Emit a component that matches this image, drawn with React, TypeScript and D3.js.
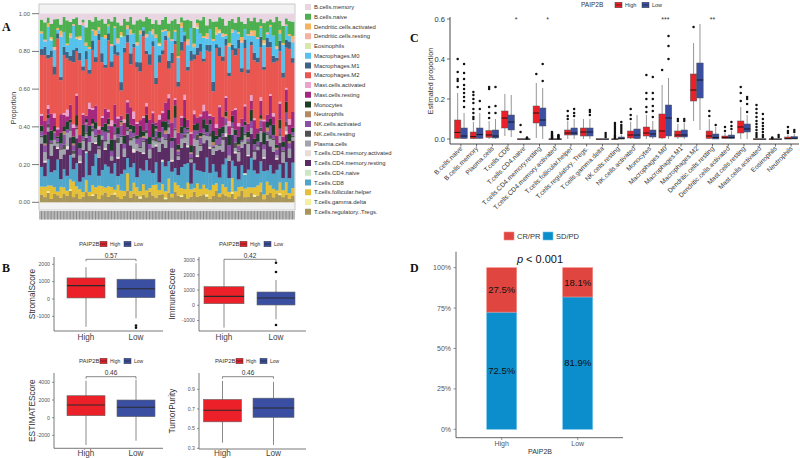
import React from 'react';
import * as d3 from 'd3';

const SANS = '"Liberation Sans", Arial, Helvetica, sans-serif';
const SERIF = '"Liberation Serif", "Times New Roman", serif';

// ---------- A: immune cell composition per sample ----------
const cellTypes = [
  'B.cells.memory', 'B.cells.naive', 'Dendritic.cells.activated', 'Dendritic.cells.resting', 'Eosinophils',
  'Macrophages.M0', 'Macrophages.M1', 'Macrophages.M2', 'Mast.cells.activated', 'Mast.cells.resting',
  'Monocytes', 'Neutrophils', 'NK.cells.activated', 'NK.cells.resting', 'Plasma.cells',
  'T.cells.CD4.memory.activated', 'T.cells.CD4.memory.resting', 'T.cells.CD4.naive', 'T.cells.CD8',
  'T.cells.follicular.helper', 'T.cells.gamma.delta', 'T.cells.regulatory..Tregs.',
];
const cellColors = [
  '#E9D5E2', '#4CAF50', '#F5B35E', '#F6B0A0', '#D9E8A8',
  '#55C2EE', '#3F6384', '#EA5650', '#EBA3CC', '#A3287E',
  '#1B3F27', '#B48A62', '#8B4FA3', '#505050', '#A2A4AC',
  '#E8DCD6', '#5A2C64', '#CBE5C5', '#4FA6CB',
  '#E5C036', '#F5F0A0', '#A8955A',
];

const bMemory = [3,5,2,6,4,3,7,2,4,5, 3,2,6,4,8,3,5,2,4,3, 6,3,4,2,5,7,3,4,2,6, 4,3,5,2,3,6,4,7,3,2, 5,4,3,6,2,4,3,5,8,3, 4,2,6,3,5,4,2,3,7,4, 3,5,2,4,6,3,4,2,5,3, 6,4,3,5,2,4,7,3,4,5];
const bNaive = [6,10,3,8,20,5,4,9,14,7, 3,11,6,2,9,13,5,8,4,10, 7,3,12,6,9,4,11,2,8,5, 13,6,4,10,7,3,9,12,5,8, 4,11,6,19,3,7,10,5,9,2, 8,12,4,6,11,3,7,9,5,13, 6,4,10,8,3,12,5,7,9,4, 11,6,3,8,20,5,10,4,7,9];
const dcActivated = [1,0,2,1,0,1,3,0,1,2, 0,1,1,0,2,1,0,3,1,0, 2,1,0,1,1,2,0,1,3,0, 1,2,0,1,0,1,2,1,0,1, 3,0,1,1,2,0,1,0,2,1, 0,1,2,0,1,3,1,0,1,2, 1,0,1,2,0,1,1,3,0,1, 2,0,1,0,1,2,1,0,1,2];
const dcResting = [0,1,0,0,2,0,1,0,0,1, 1,0,0,2,0,0,1,0,1,0, 0,0,1,0,2,0,0,1,0,0, 1,0,0,1,0,2,0,0,1,0, 0,1,0,0,1,0,2,0,0,1, 0,0,1,0,0,1,0,2,0,0, 1,0,0,1,0,0,2,0,1,0, 0,1,0,0,1,0,0,1,0,2];
const eosinophils = [0,0,0,1,0,0,0,0,0,0, 0,0,1,0,0,0,0,0,0,0, 0,0,0,0,0,1,0,0,0,0, 0,0,0,0,0,0,0,1,0,0, 0,0,0,0,0,0,0,0,0,1, 0,0,0,0,0,0,1,0,0,0, 0,0,0,0,0,0,0,0,0,0, 1,0,0,0,0,0,0,0,0,0];
const macM0 = [8,3,15,6,12,2,26,9,4,11, 14,5,7,28,3,10,6,13,2,9, 16,4,8,11,5,27,7,3,12,6, 10,15,2,8,13,4,25,6,9,3, 12,7,5,14,8,2,11,16,4,10, 6,13,3,9,26,5,8,12,2,15, 7,10,4,13,6,25,3,9,11,5, 14,2,8,12,6,4,16,9,3,10];
const macM1 = [3,5,2,4,6,3,2,5,4,3, 7,2,4,3,5,2,6,3,4,5, 2,4,3,6,2,5,3,4,7,2, 3,5,4,2,6,3,4,5,2,3, 4,6,2,3,5,4,2,7,3,4, 5,2,3,4,6,2,5,3,4,2, 3,4,6,2,5,3,2,4,3,6, 2,5,3,4,2,6,3,5,4,3];
const macM2 = [30,38,25,34,28,50,22,35,31,27, 36,24,40,29,33,14,37,26,52,30, 25,39,28,32,35,15,41,30,27,36, 33,26,53,29,31,38,24,34,28,40, 13,35,30,27,37,32,25,50,29,33, 38,27,31,36,16,40,28,34,30,26, 35,29,49,24,33,37,27,31,39,28, 32,36,25,30,51,28,34,26,38,31];
const mastActivated = [1,0,2,0,3,1,0,1,4,0, 2,1,0,1,0,3,1,0,2,1, 0,1,3,0,1,0,2,1,0,4, 1,0,1,2,0,1,0,3,1,0, 2,0,1,0,1,3,0,1,2,0, 1,4,0,1,0,2,1,0,1,3, 0,1,2,0,1,0,3,1,0,2, 1,0,1,2,0,1,0,1,3,0];
const mastResting = [5,8,3,10,6,4,12,7,3,9, 5,11,4,7,2,8,6,10,3,5, 9,4,7,12,5,3,8,6,11,4, 7,3,9,5,10,6,2,8,4,12, 6,9,3,7,5,11,4,8,6,3, 10,5,7,2,9,4,12,6,8,5, 3,11,7,4,9,6,5,10,3,8, 7,4,12,5,6,9,3,8,5,10];
const monocytes = [3,5,2,6,4,1,7,3,5,2, 4,6,3,8,2,5,3,4,7,2, 5,3,6,2,4,1,5,7,3,4, 2,6,3,5,4,8,2,4,3,6, 5,2,7,3,4,6,1,5,3,4, 2,6,4,3,7,2,5,4,3,6, 4,3,5,7,2,4,6,3,5,2, 8,3,4,6,2,5,3,7,4,3];
const neutrophils = [0,1,0,0,1,0,0,2,0,0, 1,0,0,0,1,0,1,0,0,0, 0,1,0,0,0,2,0,0,1,0, 0,0,1,0,0,0,1,0,0,2, 0,0,0,1,0,0,0,1,0,0, 1,0,0,0,2,0,0,0,1,0, 0,0,1,0,0,1,0,0,0,1, 0,2,0,0,1,0,0,0,1,0];
const nkActivated = [2,4,3,1,5,2,3,6,2,4, 3,1,4,2,5,3,2,4,1,3, 5,2,3,4,2,6,3,1,4,2, 3,5,2,4,3,1,4,2,5,3, 2,4,6,2,3,4,1,3,5,2, 4,3,2,5,1,3,4,2,3,6, 2,4,3,1,5,2,4,3,2,4, 3,1,5,2,4,3,2,6,3,2];
const nkResting = [1,0,2,1,0,1,1,3,0,1, 2,1,0,1,1,0,2,1,1,0, 1,2,0,1,3,1,0,1,2,1, 0,1,1,2,0,1,3,1,0,1, 2,0,1,1,0,2,1,1,0,3, 1,1,0,2,1,0,1,2,1,0, 1,3,1,0,1,2,0,1,1,2, 0,1,2,1,0,1,1,3,0,1];
const plasma = [3,5,2,7,4,2,6,3,8,4, 2,5,3,6,2,4,7,3,5,2, 4,6,2,3,8,4,5,2,3,6, 4,2,7,3,5,4,2,6,3,5, 3,7,4,2,5,3,6,2,4,8, 3,5,2,6,4,3,2,7,5,3, 4,2,6,3,5,8,3,4,2,6, 5,3,4,7,2,4,6,3,5,2];
const cd4MemAct = [0,1,0,0,0,1,0,0,2,0, 0,0,1,0,0,0,0,1,0,0, 1,0,0,0,1,0,0,0,0,2, 0,0,1,0,0,0,1,0,0,0, 0,1,0,0,0,0,1,0,0,1, 0,0,0,1,0,0,0,0,2,0, 0,1,0,0,0,1,0,0,0,0, 1,0,0,0,1,0,0,2,0,0];
const cd4MemRest = [12,8,15,10,18,6,13,9,16,11, 7,14,10,19,8,12,15,6,11,17, 9,13,7,15,10,18,8,12,14,6, 16,9,11,13,7,15,10,20,8,12, 14,6,17,9,11,13,8,15,10,7, 12,18,9,14,6,11,16,8,13,10, 15,7,12,9,17,10,13,6,14,11, 8,16,10,13,7,12,9,18,11,14];
const cd4Naive = [0,0,0,0,0,0,0,0,0,0, 0,0,0,0,1,0,0,0,0,0, 0,0,0,0,0,0,0,0,0,0, 0,0,0,0,0,0,0,0,1,0, 0,0,0,0,0,0,0,0,0,0, 0,0,0,0,0,0,0,0,0,0, 0,0,0,0,1,0,0,0,0,0, 0,0,0,0,0,0,0,0,0,0];
const cd8 = [10,6,14,8,12,18,5,11,9,15, 7,13,4,10,16,8,12,20,6,9, 14,11,7,17,5,10,13,8,15,11, 6,12,9,18,10,7,14,5,11,16, 9,13,8,6,12,15,10,4,14,7, 11,8,16,10,13,6,9,12,17,8, 10,14,5,11,8,13,16,9,7,12, 15,6,11,9,14,10,7,13,8,16];
const tfh = [4,6,3,8,5,2,7,4,3,6, 9,4,5,3,7,2,6,4,8,5, 3,6,4,2,7,5,3,9,4,6, 5,3,7,4,2,6,8,3,5,4, 7,2,5,6,4,3,8,5,2,7, 4,6,3,5,7,4,2,6,5,3, 8,4,6,2,5,7,3,4,6,5, 3,7,4,5,2,6,4,8,3,5];
const gammaDelta = [0,0,1,0,0,0,0,0,0,1, 0,0,0,0,0,0,1,0,0,0, 0,0,0,1,0,0,0,0,0,0, 0,1,0,0,0,0,0,0,0,1, 0,0,0,0,1,0,0,0,0,0, 0,0,1,0,0,0,0,0,0,0, 1,0,0,0,0,0,0,1,0,0, 0,0,0,0,0,1,0,0,0,0];
const tregs = [4,3,5,2,6,4,3,5,4,7, 3,5,2,4,6,3,4,5,2,4, 6,3,4,5,3,2,4,6,3,5, 4,2,5,3,6,4,3,5,4,2, 5,3,6,4,3,5,2,4,6,3, 4,5,3,2,4,6,3,5,4,3, 5,2,4,6,3,4,5,3,4,6, 2,4,5,3,6,4,3,5,2,4];

const composition = [
  bMemory, bNaive, dcActivated, dcResting, eosinophils,
  macM0, macM1, macM2, mastActivated, mastResting,
  monocytes, neutrophils, nkActivated, nkResting, plasma,
  cd4MemAct, cd4MemRest, cd4Naive, cd8,
  tfh, gammaDelta, tregs,
];

// ---------- C: boxplots by PAIP2B group ([lo, q1, median, q3, hi]) ----------
const cCats = [
  'B.cells.naive', 'B.cells.memory', 'Plasma.cells', 'T.cells.CD8', 'T.cells.CD4.naive',
  'T.cells.CD4.memory.resting', 'T.cells.CD4.memory.activated', 'T.cells.follicular.helper',
  'T.cells.regulatory..Tregs.', 'T.cells.gamma.delta', 'NK.cells.resting', 'NK.cells.activated',
  'Monocytes', 'Macrophages.M0', 'Macrophages.M1', 'Macrophages.M2', 'Dendritic.cells.resting',
  'Dendritic.cells.activated', 'Mast.cells.resting', 'Mast.cells.activated', 'Eosinophils', 'Neutrophils',
];
const cHighBox = [
  [0, 0.004, 0.033, 0.095, 0.23], [0, 0.002, 0.012, 0.035, 0.085], [0, 0.008, 0.02, 0.042, 0.09],
  [0.015, 0.055, 0.105, 0.14, 0.225], [0, 0, 0, 0, 0], [0.005, 0.08, 0.13, 0.165, 0.28],
  [0, 0, 0, 0, 0], [0, 0.02, 0.03, 0.045, 0.09], [0, 0.015, 0.035, 0.055, 0.1], [0, 0, 0, 0, 0],
  [0, 0, 0, 0, 0], [0, 0.005, 0.02, 0.04, 0.085], [0, 0.015, 0.03, 0.06, 0.12],
  [0, 0.005, 0.04, 0.125, 0.27], [0, 0.01, 0.02, 0.04, 0.075], [0.09, 0.19, 0.245, 0.325, 0.48],
  [0, 0.003, 0.015, 0.04, 0.1], [0, 0.002, 0.008, 0.015, 0.03], [0, 0.03, 0.06, 0.09, 0.16],
  [0, 0, 0, 0, 0], [0, 0, 0, 0, 0], [0, 0, 0.002, 0.01, 0.02],
];
const cLowBox = [
  [0, 0.002, 0.015, 0.055, 0.13], [0, 0.003, 0.022, 0.055, 0.13], [0, 0.005, 0.015, 0.045, 0.1],
  [0.01, 0.045, 0.085, 0.12, 0.22], [0, 0, 0, 0, 0], [0, 0.065, 0.095, 0.155, 0.255],
  [0, 0, 0, 0, 0], [0, 0.02, 0.03, 0.055, 0.1], [0, 0.015, 0.035, 0.055, 0.1], [0, 0, 0, 0, 0],
  [0, 0, 0.002, 0.01, 0.02], [0, 0.002, 0.02, 0.05, 0.12], [0, 0.01, 0.025, 0.045, 0.09],
  [0, 0.015, 0.105, 0.17, 0.305], [0, 0.01, 0.02, 0.045, 0.08], [0.045, 0.205, 0.295, 0.38, 0.575],
  [0, 0, 0.008, 0.025, 0.06], [0, 0.002, 0.008, 0.02, 0.04], [0, 0.035, 0.05, 0.075, 0.12],
  [0, 0, 0, 0, 0], [0, 0, 0, 0, 0], [0, 0, 0.004, 0.012, 0.025],
];
const cHighOut = [
  [0.26, 0.29, 0.3, 0.335, 0.4], [0.1, 0.11, 0.13, 0.15, 0.18, 0.2, 0.22, 0.235], [0.105, 0.13, 0.16, 0.25, 0.26],
  [], [0.035, 0.07], [0.325], [0.004, 0.008, 0.012, 0.016, 0.02, 0.025, 0.03, 0.035],
  [0.1, 0.115, 0.14], [], [], [0.005, 0.01, 0.015, 0.02, 0.03, 0.04, 0.05, 0.06, 0.07, 0.08],
  [0.1, 0.12, 0.15], [0.135, 0.16, 0.2, 0.23, 0.32], [0.345], [0.09, 0.1], [0.56],
  [0.115, 0.14], [0.04, 0.06], [0.19, 0.23, 0.26],
  [0.01, 0.02, 0.03, 0.045, 0.06, 0.075, 0.09, 0.11, 0.13, 0.15, 0.17], [0.004, 0.008],
  [0.03, 0.04, 0.06],
];
const cLowOut = [
  [0.16, 0.19, 0.21, 0.23, 0.25, 0.27, 0.3, 0.33, 0.375], [0.15, 0.19], [0.13, 0.165, 0.26],
  [], [0.004, 0.008], [0.29, 0.375], [0.004, 0.008, 0.012, 0.016, 0.02],
  [0.115, 0.13, 0.15], [0.12, 0.135, 0.145], [0.01, 0.02, 0.03],
  [0.03, 0.04, 0.05, 0.06, 0.07, 0.085], [], [0.11, 0.14, 0.165, 0.2, 0.23, 0.31], [0.4, 0.465, 0.515],
  [0.09, 0.1], [], [0.07], [0.05, 0.065, 0.085], [0.135, 0.175, 0.2, 0.21],
  [0.01, 0.02, 0.035, 0.05, 0.065, 0.08, 0.1, 0.125], [0.01, 0.02], [0.035, 0.045],
];
const cSig = ['', '', '', '*', '', '*', '', '', '', '', '', '', '', '***', '', '', '**', '', '', '', '', ''];

// ---------- B: ESTIMATE scores ([lo, q1, median, q3, hi]) ----------
const stromalHigh = [-1600, 60, 770, 1215, 1830];
const stromalLow = [-1115, 75, 595, 1140, 2060];
const stromalLowOut = [-1530, -1650];
const immuneHigh = [-1470, 105, 590, 1225, 2900];
const immuneLow = [-920, 20, 480, 875, 1660];
const immuneLowOut = [2190, 2800, -1300];
const estimateHigh = [-3085, 225, 1435, 2485, 4180];
const estimateLow = [-2600, 115, 1175, 2000, 4300];
const purityHigh = [0.357, 0.569, 0.687, 0.797, 0.985];
const purityLow = [0.334, 0.614, 0.71, 0.81, 0.975];

// ---------- D: response by PAIP2B ----------
const dGroups = ['High', 'Low'];
const dResponse = ['SD/PD', 'CR/PR'];
const crpr = [27.5, 18.1];
const sdpd = [72.5, 81.9];

const RED = '#EC2028';
const BLUE = '#3A4FA2';

function PanelA() {
  const n = bMemory.length;
  const rows = d3.range(n).map((i) => {
    const r: Record<string, number> = { id: i };
    cellTypes.forEach((t, k) => { r[t] = composition[k][i]; });
    return r;
  });
  const keys = cellTypes.slice().reverse();
  const series = d3.stack<Record<string, number>>().keys(keys).offset(d3.stackOffsetExpand)(rows);
  const x = d3.scaleBand<number>().domain(d3.range(n)).range([40, 294]).padding(0);
  const y = d3.scaleLinear().domain([0, 1]).range([202.3, 13.7]);
  const color = d3.scaleOrdinal<string, string>().domain(cellTypes).range(cellColors);
  return (
    <g>
      <rect x={39} y={4} width={256} height={206} fill="#F2F2F2" stroke="#BDBDBD" strokeWidth={0.8} />
      {series.map((s) => (
        <g key={s.key} fill={color(s.key)}>
          {s.map((d, i) => (
            <rect key={i} x={x(i)!} width={x.bandwidth() + 0.4} y={y(d[1])} height={Math.max(0, y(d[0]) - y(d[1]))} />
          ))}
        </g>
      ))}
      {y.ticks(4).map((t) => (
        <g key={t}>
          <line x1={32} x2={39} y1={y(t)} y2={y(t)} stroke="#555" strokeWidth={0.8} />
          <text x={30} y={y(t)} dy="0.35em" textAnchor="end" fontSize={5.8} fill="#555">{d3.format('.2f')(t)}</text>
        </g>
      ))}
      <text transform="translate(16,108) rotate(-90)" textAnchor="middle" fontSize={7} fill="#333">Proportion</text>
      <rect x={39} y={211} width={256} height={8.5} fill="#B8B8B8" />
      {d3.range(n).map((i) => (
        <line key={i} x1={x(i)! + x.bandwidth() / 2} x2={x(i)! + x.bandwidth() / 2} y1={211} y2={219.5} stroke="#858585" strokeWidth={0.9} />
      ))}
      {cellTypes.map((t, i) => (
        <g key={t} transform={`translate(305,${7 + i * 9.75})`}>
          <rect x={0} y={-3} width={6} height={6} fill={color(t)} />
          <text x={9} y={0} dy="0.35em" fontSize={5.9} fill="#333">{t}</text>
        </g>
      ))}
    </g>
  );
}

function BoxKey({ x, y, fill, w = 7, h = 5.5 }: { x: number; y: number; fill: string; w?: number; h?: number }) {
  return (
    <g>
      <rect x={x} y={y - h / 2} width={w} height={h} fill={fill} stroke="#444" strokeWidth={0.5} />
      <line x1={x} x2={x + w} y1={y} y2={y} stroke="#222" strokeWidth={0.6} />
    </g>
  );
}

function PanelC() {
  const x = d3.scaleBand<string>().domain(cCats).range([453, 799]);
  const y = d3.scaleLinear().domain([0, 0.6]).range([139, 19]);
  const bw = 6.4;
  const box = (st: number[], x0: number, fill: string, outs: number[], key: string) => {
    const cx = x0 + bw / 2;
    return (
      <g key={key}>
        <line x1={cx} x2={cx} y1={y(st[0])} y2={y(st[4])} stroke="#8A8A8A" strokeWidth={0.9} />
        <rect x={x0} y={y(st[3])} width={bw} height={Math.max(0.6, y(st[1]) - y(st[3]))} fill={fill} stroke="#555" strokeWidth={0.5} />
        <line x1={x0} x2={x0 + bw} y1={y(st[2])} y2={y(st[2])} stroke="#111" strokeWidth={0.9} />
        {outs.map((o, j) => <circle key={j} cx={cx} cy={y(o)} r={1.25} fill="#111" />)}
      </g>
    );
  };
  return (
    <g>
      <text x={581} y={5} dy="0.35em" fontSize={6.5} fill="#333">PAIP2B</text>
      <BoxKey x={615} y={5} fill={RED} />
      <text x={625} y={5} dy="0.35em" fontSize={5.5} fill="#333">High</text>
      <BoxKey x={642} y={5} fill={BLUE} />
      <text x={652} y={5} dy="0.35em" fontSize={5.5} fill="#333">Low</text>
      {cCats.map((c, i) => {
        const cx = x(c)! + x.bandwidth() / 2;
        return (
          <g key={c}>
            {box(cHighBox[i], cx - bw, RED, cHighOut[i], 'h')}
            {box(cLowBox[i], cx, BLUE, cLowOut[i], 'l')}
            {cSig[i] && (
              <text x={cx + (cSig[i].length === 1 ? 8 : 0)} y={y(0.6) + 3} textAnchor="middle" fontSize={7} fill="#333">{cSig[i]}</text>
            )}
            <line x1={cx} x2={cx} y1={144} y2={146.5} stroke="#333" strokeWidth={0.7} />
            <text transform={`translate(${cx + 2},${149}) rotate(-45)`} textAnchor="end" fontSize={6.6} fill="#333">{c}</text>
          </g>
        );
      })}
      <line x1={450} x2={450} y1={17} y2={144} stroke="#333" strokeWidth={0.9} />
      <line x1={450} x2={799} y1={144} y2={144} stroke="#333" strokeWidth={0.9} />
      {[0, 0.2, 0.4, 0.6].map((t) => (
        <g key={t}>
          <line x1={447} x2={450} y1={y(t)} y2={y(t)} stroke="#333" strokeWidth={0.7} />
          <text x={445} y={y(t)} dy="0.35em" textAnchor="end" fontSize={7.5} fill="#333">{t.toFixed(1)}</text>
        </g>
      ))}
      <text transform="translate(433,81) rotate(-90)" textAnchor="middle" fontSize={7.2} fill="#333">Estimated proportion</text>
    </g>
  );
}

type BConf = {
  title: string; titleX: number; axisX: [number, number]; axisTop: number; axisBottom: number;
  dom: [number, number]; rng: [number, number]; ticks: number[]; fmt: (v: number) => string;
  centers: [number, number]; widths: [number, number]; high: number[]; low: number[];
  highOut: number[]; lowOut: number[]; p: string; bracketY: number; legendX: number; legendY: number; labelY: number;
};

function BoxPanel({ c }: { c: BConf }) {
  const y = d3.scaleLinear().domain(c.dom).range(c.rng);
  const x = d3.scalePoint<string>().domain(dGroups).range(c.centers);
  const stats = [c.high, c.low];
  const outs = [c.highOut, c.lowOut];
  const fills = [RED, BLUE];
  const midY = (c.axisTop + c.axisBottom) / 2;
  const lx = c.legendX;
  return (
    <g>
      <text x={lx} y={c.legendY} dy="0.35em" fontSize={6} fill="#333">PAIP2B</text>
      <BoxKey x={lx + 21} y={c.legendY} fill={RED} />
      <text x={lx + 31} y={c.legendY} dy="0.35em" fontSize={5} fill="#333">High</text>
      <BoxKey x={lx + 45} y={c.legendY} fill={BLUE} />
      <text x={lx + 55} y={c.legendY} dy="0.35em" fontSize={5} fill="#333">Low</text>
      {dGroups.map((g, i) => {
        const cx = x(g)!;
        const st = stats[i];
        const w = c.widths[i];
        return (
          <g key={g}>
            <line x1={cx} x2={cx} y1={y(st[0])} y2={y(st[4])} stroke="#8A8A8A" strokeWidth={1} />
            <rect x={cx - w / 2} y={y(st[3])} width={w} height={y(st[1]) - y(st[3])} fill={fills[i]} stroke="#666" strokeWidth={0.6} />
            <line x1={cx - w / 2} x2={cx + w / 2} y1={y(st[2])} y2={y(st[2])} stroke="#2A2A2A" strokeWidth={1.1} />
            {outs[i].map((o, j) => <circle key={j} cx={cx} cy={y(o)} r={1.3} fill="#111" />)}
            <text x={cx} y={c.labelY} dy="0.35em" textAnchor="middle" fontSize={8.2} fill="#444">{g}</text>
          </g>
        );
      })}
      <path d={`M${x('High')},${c.bracketY + 2}V${c.bracketY}H${x('Low')}V${c.bracketY + 2}`} fill="none" stroke="#555" strokeWidth={0.7} />
      <text x={(x('High')! + x('Low')!) / 2} y={c.bracketY - 1.5} textAnchor="middle" fontSize={6.5} fill="#333">{c.p}</text>
      <line x1={c.axisX[0]} x2={c.axisX[0]} y1={c.axisTop} y2={c.axisBottom} stroke="#555" strokeWidth={0.8} />
      <line x1={c.axisX[0]} x2={c.axisX[1]} y1={c.axisBottom} y2={c.axisBottom} stroke="#555" strokeWidth={0.8} />
      {c.ticks.map((t) => (
        <g key={t}>
          <line x1={c.axisX[0] - 2} x2={c.axisX[0]} y1={y(t)} y2={y(t)} stroke="#555" strokeWidth={0.6} />
          <text x={c.axisX[0] - 4} y={y(t)} dy="0.35em" textAnchor="end" fontSize={5.2} fill="#555">{c.fmt(t)}</text>
        </g>
      ))}
      <text transform={`translate(${c.titleX},${midY}) rotate(-90)`} textAnchor="middle" fontSize={8.3} fill="#333">{c.title}</text>
    </g>
  );
}

const intFmt = (v: number) => String(v);
const bConfs: BConf[] = [
  { title: 'StromalScore', titleX: 35, axisX: [54, 163], axisTop: 257, axisBottom: 331, dom: [0, 2000], rng: [299, 264.3],
    ticks: [-1000, 0, 1000, 2000], fmt: intFmt, centers: [86, 136], widths: [38, 38], high: stromalHigh, low: stromalLow,
    highOut: [], lowOut: stromalLowOut, p: '0.57', bracketY: 259.3, legendX: 79, legendY: 244, labelY: 337 },
  { title: 'ImmuneScore', titleX: 175, axisX: [199, 306], axisTop: 257, axisBottom: 331, dom: [0, 3000], rng: [305.3, 259.7],
    ticks: [-1000, 0, 1000, 2000, 3000], fmt: intFmt, centers: [224, 276], widths: [40, 38], high: immuneHigh, low: immuneLow,
    highOut: [], lowOut: immuneLowOut, p: '0.42', bracketY: 259.3, legendX: 219, legendY: 244, labelY: 337 },
  { title: 'ESTIMATEScore', titleX: 35, axisX: [54, 163], axisTop: 373, axisBottom: 448.3, dom: [0, 4000], rng: [417.7, 382.3],
    ticks: [-2000, 0, 2000, 4000], fmt: intFmt, centers: [86, 136], widths: [38, 38], high: estimateHigh, low: estimateLow,
    highOut: [], lowOut: [], p: '0.46', bracketY: 376.7, legendX: 79, legendY: 361, labelY: 453.5 },
  { title: 'TumorPurity', titleX: 175, axisX: [199, 306], axisTop: 373, axisBottom: 449, dom: [0.3, 0.9], rng: [448.3, 389.3],
    ticks: [0.3, 0.5, 0.7, 0.9], fmt: (v) => v.toFixed(1), centers: [222.5, 273.5], widths: [38, 41], high: purityHigh, low: purityLow,
    highOut: [], lowOut: [], p: '0.46', bracketY: 376.7, legendX: 215, legendY: 361, labelY: 453.5 },
];

function PanelD() {
  const x = d3.scalePoint<string>().domain(dGroups).range([501.7, 577.7]);
  const y = d3.scaleLinear().domain([0, 100]).range([429.3, 267.7]);
  const rows = dGroups.map((g, i) => ({ group: g, 'SD/PD': sdpd[i], 'CR/PR': crpr[i] }));
  const series = d3.stack<any>().keys(dResponse)(rows);
  const fill: Record<string, string> = { 'CR/PR': '#E0463F', 'SD/PD': '#0B8ECB' };
  const edge: Record<string, string> = { 'CR/PR': '#F08A84', 'SD/PD': '#6CC3EA' };
  const bw = 30;
  return (
    <g>
      <rect x={504} y={232} width={10} height={8} fill={fill['CR/PR']} stroke={edge['CR/PR']} strokeWidth={0.6} />
      <text x={517} y={236} dy="0.35em" fontSize={7.5} fill="#333">CR/PR</text>
      <rect x={543} y={232} width={10} height={8} fill={fill['SD/PD']} stroke={edge['SD/PD']} strokeWidth={0.6} />
      <text x={556} y={236} dy="0.35em" fontSize={7.5} fill="#333">SD/PD</text>
      {series.map((s) => (
        <g key={s.key}>
          {s.map((d, i) => {
            const cx = x(dGroups[i])!;
            return (
              <g key={i}>
                <rect x={cx - bw / 2} width={bw} y={y(d[1])} height={y(d[0]) - y(d[1])} fill={fill[s.key]} stroke={edge[s.key]} strokeWidth={0.6} />
                <text x={cx} y={y((d[0] + d[1]) / 2)} dy="0.35em" textAnchor="middle" fontSize={9.5} fill="#111">
                  {`${(d[1] - d[0]).toFixed(1)}%`}
                </text>
              </g>
            );
          })}
        </g>
      ))}
      <text x={540} y={259} dy="0.35em" textAnchor="middle" fontSize={11} fill="#111">
        <tspan fontStyle="italic">p</tspan> &lt; 0.001
      </text>
      <line x1={456} x2={456} y1={251.7} y2={437.7} stroke="#555" strokeWidth={0.9} />
      <line x1={456} x2={623} y1={437.7} y2={437.7} stroke="#555" strokeWidth={0.9} />
      {[0, 25, 50, 75, 100].map((t) => (
        <g key={t}>
          <line x1={453.5} x2={456} y1={y(t)} y2={y(t)} stroke="#555" strokeWidth={0.6} />
          <text x={451} y={y(t)} dy="0.35em" textAnchor="end" fontSize={7} fill="#555">{`${t}%`}</text>
        </g>
      ))}
      {dGroups.map((g) => (
        <g key={g}>
          <line x1={x(g)!} x2={x(g)!} y1={437.7} y2={440} stroke="#555" strokeWidth={0.6} />
          <text x={x(g)!} y={443.5} dy="0.35em" textAnchor="middle" fontSize={7} fill="#555">{g}</text>
        </g>
      ))}
      <text x={540} y={451.5} dy="0.35em" textAnchor="middle" fontSize={7} fill="#333">PAIP2B</text>
    </g>
  );
}

export default function App() {
  return (
    <svg width={800} height={458} viewBox="0 0 800 458" style={{ position: 'absolute', left: 0, top: 0, background: '#fff' }} fontFamily={SANS}>
      <rect width={800} height={458} fill="#fff" />
      <PanelA />
      <PanelC />
      {bConfs.map((c) => <BoxPanel key={c.title} c={c} />)}
      <PanelD />
      <g fontFamily={SERIF} fontWeight="bold" fontSize={12} fill="#111">
        <text x={2} y={31}>A</text>
        <text x={2} y={272}>B</text>
        <text x={410} y={42}>C</text>
        <text x={410} y={272}>D</text>
      </g>
    </svg>
  );
}
